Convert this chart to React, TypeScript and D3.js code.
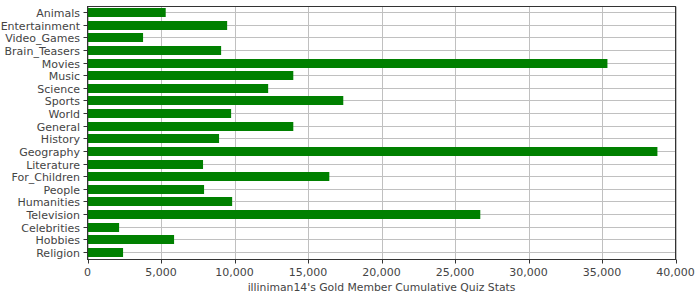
import React from "react";
import * as d3 from "d3";

const categories = [
  "Animals", "Entertainment", "Video_Games", "Brain_Teasers", "Movies", "Music",
  "Science", "Sports", "World", "General", "History", "Geography", "Literature",
  "For_Children", "People", "Humanities", "Television", "Celebrities", "Hobbies", "Religion",
];
const values = [
  5320, 9500, 3780, 9090, 35370, 14000,
  12290, 17400, 9770, 14000, 8950, 38770, 7860,
  16450, 7930, 9840, 26720, 2150, 5890, 2420,
];
const xTicks = [0, 5000, 10000, 15000, 20000, 25000, 30000, 35000, 40000];
const axisTitle = "illiniman14's Gold Member Cumulative Quiz Stats";

export default function App() {
  const W = 700, H = 300;
  const left = 87.5, right = 675.5, top = 6.5, bottom = 259.5;
  const x = d3.scaleLinear().domain([0, 40000]).range([left, right]);
  const y = d3.scaleBand<string>().domain(categories).range([top, 257.5]).paddingInner(0.3).paddingOuter(0.085);
  const fmt = d3.format(",");
  const font = "'DejaVu Sans', sans-serif";
  const cyOf = (c: string) => Math.round((y(c) as number) + y.bandwidth() / 2) + 0.5;
  return (
    <svg width={W} height={H} style={{ position: "absolute", left: 0, top: 0 }} fontFamily={font}>
      <rect x={0} y={0} width={W} height={H} fill="#fff" />
      {xTicks.map((t) => (
        <line key={"gx" + t} x1={Math.round(x(t)) + 0.5} x2={Math.round(x(t)) + 0.5} y1={top} y2={bottom} stroke="#c0c0c0" strokeWidth={1} />
      ))}
      {categories.map((c) => (
        <line key={"gy" + c} x1={left} x2={right} y1={cyOf(c)} y2={cyOf(c)} stroke="#c0c0c0" strokeWidth={1} />
      ))}
      {categories.map((c, i) => (
        <rect key={"b" + c} x={x(0)} y={cyOf(c) - 4.5} width={x(values[i]) - x(0)} height={9} fill="#008000" />
      ))}
      <rect x={left} y={top} width={right - left} height={bottom - top} fill="none" stroke="#333" strokeWidth={1} />
      {categories.map((c) => (
        <g key={"l" + c}>
          <line x1={left - 4} x2={left} y1={cyOf(c)} y2={cyOf(c)} stroke="#333" />
          <text x={80} y={cyOf(c) + 4} textAnchor="end" fontSize={11} fill="#444">{c}</text>
        </g>
      ))}
      {xTicks.map((t) => (
        <g key={"tx" + t}>
          <line x1={Math.round(x(t)) + 0.5} x2={Math.round(x(t)) + 0.5} y1={bottom} y2={bottom + 4} stroke="#333" />
          <text x={x(t)} y={276} textAnchor="middle" fontSize={11} fill="#444">{fmt(t)}</text>
        </g>
      ))}
      <text x={(left + right) / 2} y={291} textAnchor="middle" fontSize={10.8} fill="#444">{axisTitle}</text>
    </svg>
  );
}
